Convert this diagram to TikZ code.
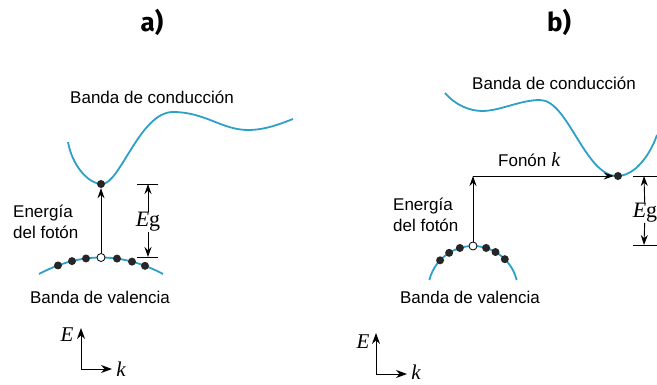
\documentclass[tikz,border=0pt]{standalone}
\usepackage{fontspec}
\setmainfont{Liberation Sans}
\newfontfamily\timesfont{Liberation Serif}
\newfontfamily\headfont{Fira Sans}
\usetikzlibrary{arrows.meta}
\definecolor{bandcyan}{RGB}{45,160,200}

\begin{document}
\begin{tikzpicture}[
                x=1pt, y=-1pt,
                every node/.style={inner sep=0pt, font=\fontsize{17}{21}\selectfont},
                band/.style={draw=bandcyan, line width=1.8pt},
                electron/.style={circle, fill=black!85, minimum size=8pt},
                hole/.style={circle, draw=black, fill=white, line width=0.8pt, minimum size=8pt},
                transition/.style={line width=0.9pt, -{Stealth[length=10pt,width=7pt]}},
                gaparrow/.style={line width=0.9pt, -{Stealth[length=10pt,width=7pt]}},
                axisarrow/.style={line width=1pt, -{Stealth[length=11pt,width=8pt]}},
                tick/.style={line width=0.9pt},
                gaplabel/.style={font=\fontsize{22}{24}\timesfont},
                axislabel/.style={font=\fontsize{21}{22}\timesfont\itshape},
                heading/.style={font=\fontsize{26}{30}\headfont\bfseries}
            ]

            \useasboundingbox (0,0) rectangle (657,385);

            \node[heading] (titleA) at (152,22) {a)};
            \node[heading] (titleB) at (559,22) {b)};

            \node (condA) at (152,97) {Banda de conducción};
            \draw[band] (68,142) .. controls (72,165) and (88,184) .. (102,184)
                .. controls (120,184) and (140,112) .. (173,112)
                .. controls (205,112) and (222,130) .. (248,130)
                .. controls (265,130) and (280,124) .. (293,119);
            \draw[band] (39,274) .. controls (80.3,252) and (121.7,252) .. (163,274);
            \foreach \x [count=\i] in {58,72,86,117,132,145}
                \node[electron] (valA\i) at (\x,{257.5+0.0043*(\x-101)^2}) {};
            \node[hole] (holeA) at (101,257.5) {};
            \node[electron] (elecA) at (101,184) {};
            \draw[transition] (holeA) -- (elecA);
            \node[align=left, anchor=west] (photonA) at (13,222) {Energía\\del fotón};
            \node (valenceA) at (100,297) {Banda de valencia};

            \coordinate (gapAtop) at (148,184);
            \coordinate (gapAbot) at (148,257);
            \draw[tick] ([xshift=-11pt]gapAtop) -- ([xshift=10pt]gapAtop);
            \draw[tick] ([xshift=-11pt]gapAbot) -- ([xshift=10pt]gapAbot);
            \node[gaplabel] (gapA) at (148,222) {\textit{E}g};
            \draw[gaparrow] (gapA) -- (gapAtop);
            \draw[gaparrow] (gapA) -- (gapAbot);

            \coordinate (originA) at (81,369);
            \coordinate (energyA) at (81,328);
            \coordinate (momentumA) at (112,369);
            \draw[axisarrow] (originA) -- (energyA);
            \draw[axisarrow] (originA) -- (momentumA);
            \node[axislabel] (labelEA) at (67,335) {E};
            \node[axislabel] (labelkA) at (121,369) {k};

            \node (condB) at (554,83) {Banda de conducción};
            \draw[band] (445,93) .. controls (455,105) and (470,111) .. (482,111)
                .. controls (500,111) and (520,100) .. (540,100)
                .. controls (568,100) and (585,176) .. (617,176)
                .. controls (635,176) and (650,155) .. (657,135);
            \coordinate (centreB) at (473,291);
            \draw[band] ([shift={(194:45)}]centreB) arc[start angle=194, end angle=346, radius=45];
            \foreach \a [count=\i] in {223,238,253,287,300,315}
                \node[electron] (valB\i) at ([shift={(\a:45)}]centreB) {};
            \node[hole] (holeB) at ([shift={(270:45)}]centreB) {};
            \node[electron] (elecB) at (618,176) {};
            \coordinate (cornerB) at (473,176);
            \draw[transition] (holeB) -- (cornerB);
            \draw[transition] (cornerB) -- (elecB);
            \node[anchor=west] (phononB) at (498,160) {Fonón\hspace{5pt}{\fontsize{20}{22}\timesfont\itshape k}};
            \node[align=left, anchor=west] (photonB) at (393,215) {Energía\\del fotón};
            \node (valenceB) at (470,297) {Banda de valencia};

            \coordinate (gapBtop) at (644,176);
            \coordinate (gapBbot) at (644,245);
            \draw[tick] ([xshift=-11pt]gapBtop) -- ([xshift=13pt]gapBtop);
            \draw[tick] ([xshift=-11pt]gapBbot) -- ([xshift=13pt]gapBbot);
            \node[gaplabel] (gapB) at (645,213) {\textit{E}g};
            \draw[gaparrow] (gapB) -- (gapBtop);
            \draw[gaparrow] (gapB) -- (gapBbot);

            \coordinate (originB) at (376,374);
            \coordinate (energyB) at (376,333);
            \coordinate (momentumB) at (407,374);
            \draw[axisarrow] (originB) -- (energyB);
            \draw[axisarrow] (originB) -- (momentumB);
            \node[axislabel] (labelEB) at (363,342) {E};
            \node[axislabel] (labelkB) at (416,372) {k};

        \end{tikzpicture}
\end{document}
